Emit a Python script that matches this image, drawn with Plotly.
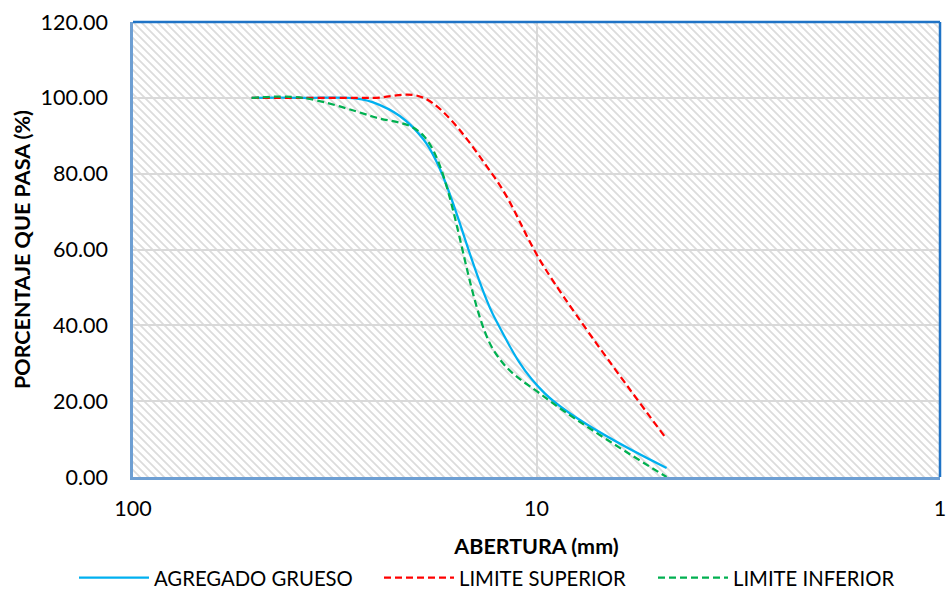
import base64
import plotly.graph_objects as go

# Sieve openings (mm) and percent passing
aberturas_mm = [50.8, 38.1, 25.4, 19.05, 12.7, 9.525, 4.76]
agregado_grueso = [100.0, 100.0, 98.8, 89.0, 42.0, 22.0, 2.4]
limite_superior = [100.0, 100.0, 100.0, 100.0, 79.0, 55.0, 10.0]
limite_inferior = [100.0, 100.0, 95.0, 90.0, 33.0, 21.0, 0.0]

x_ticks = [100, 10, 1]
x_tick_text = ["100", "10", "1"]

FONT = "Lato"
W, H = 950, 590
M_L, M_R, M_T, M_B = 133, 10, 22, 113
PW, PH = W - M_L - M_R, H - M_T - M_B

# Diagonal hatch used as the plot-area background
svg = (
    f'<svg xmlns="http://www.w3.org/2000/svg" width="{PW}" height="{PH}" viewBox="0 0 {PW} {PH}">'
    '<defs><pattern id="h" width="8" height="8" patternUnits="userSpaceOnUse">'
    '<path d="M-2,-2 L10,10 M-2,6 L2,10 M6,-2 L10,2" stroke="#dcdcdc" stroke-width="1.8"/>'
    '</pattern></defs>'
    f'<rect width="{PW}" height="{PH}" fill="white"/>'
    f'<rect width="{PW}" height="{PH}" fill="url(#h)"/></svg>'
)
hatch_uri = "data:image/svg+xml;base64," + base64.b64encode(svg.encode()).decode()


def px_to_paper_x(px):
    return (px - M_L) / PW


fig = go.Figure()
fig.add_trace(go.Scatter(
    x=aberturas_mm, y=agregado_grueso, mode="lines", name="AGREGADO GRUESO",
    line=dict(color="#00B0F0", width=2.25, shape="spline", smoothing=1.0),
    legend="legend", showlegend=True,
))
fig.add_trace(go.Scatter(
    x=aberturas_mm, y=limite_superior, mode="lines", name="LIMITE SUPERIOR",
    line=dict(color="#FF0000", width=2.25, dash="7px,4px", shape="spline", smoothing=1.0),
    legend="legend2", showlegend=True,
))
fig.add_trace(go.Scatter(
    x=aberturas_mm, y=limite_inferior, mode="lines", name="LIMITE INFERIOR",
    line=dict(color="#00B050", width=2.25, dash="7px,4px", shape="spline", smoothing=1.0),
    legend="legend3", showlegend=True,
))

legend_common = dict(
    orientation="h", xanchor="left", y=-0.222, yanchor="middle",
    font=dict(family=FONT, size=20.3, color="#000000"),
    itemwidth=70, bgcolor="rgba(0,0,0,0)", visible=True,
)

fig.update_layout(
    width=W, height=H,
    showlegend=True,
    margin=dict(l=M_L, r=M_R, t=M_T, b=M_B, pad=0, autoexpand=False),
    paper_bgcolor="white",
    plot_bgcolor="rgba(0,0,0,0)",
    font=dict(family=FONT, size=20, color="#000000"),
    images=[dict(
        source=hatch_uri, xref="paper", yref="paper", x=0, y=1,
        sizex=1, sizey=1, xanchor="left", yanchor="top",
        sizing="stretch", layer="below",
    )],
    xaxis=dict(
        type="log", range=[2, 0],
        tickvals=x_ticks, ticktext=x_tick_text,
        showgrid=True, gridcolor="#d9d9d9", gridwidth=2,
        showline=True, linecolor="#6E9FD3", linewidth=2.5,
        ticks="outside", ticklen=10, tickcolor="rgba(0,0,0,0)",
        tickfont=dict(family=FONT, size=21.5, color="#000000"),
        title=dict(text="<b>ABERTURA (mm)</b>", standoff=20,
                   font=dict(family=FONT, size=21.5, color="#000000")),
        zeroline=False,
    ),
    yaxis=dict(
        range=[0, 120], dtick=20, tickformat=".2f",
        showgrid=True, gridcolor="#d9d9d9", gridwidth=2,
        showline=True, linecolor="#6E9FD3", linewidth=2.5,
        ticks="outside", ticklen=18, tickcolor="rgba(0,0,0,0)",
        tickfont=dict(family=FONT, size=21.5, color="#000000"),
        title=dict(text="<b>PORCENTAJE QUE PASA (%)</b>", standoff=4,
                   font=dict(family=FONT, size=21.5, color="#000000")),
        zeroline=False,
    ),
    legend=dict(legend_common, x=px_to_paper_x(74)),
    legend2=dict(legend_common, x=px_to_paper_x(379)),
    legend3=dict(legend_common, x=px_to_paper_x(653)),
    shapes=[
        dict(type="line", xref="paper", yref="paper", x0=0, x1=1, y0=1, y1=1,
             line=dict(color="#1F73C6", width=2.5)),
        dict(type="line", xref="paper", yref="paper", x0=1, x1=1, y0=0, y1=1,
             line=dict(color="#1F73C6", width=2.5)),
    ],
)

fig.write_html("out.html")
